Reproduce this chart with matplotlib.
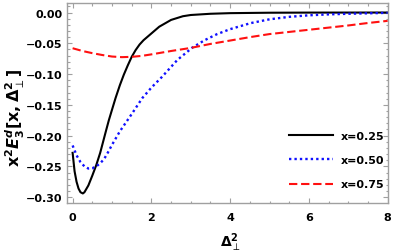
import matplotlib
matplotlib.use('Agg')
from matplotlib import pyplot as plt
from matplotlib.ticker import MultipleLocator

# values
d_025 = [0, 0.05, 0.1, 0.15, 0.2, 0.26, 0.3, 0.4, 0.5, 0.6, 0.7, 0.77, 0.84, 0.92, 1.0, 1.09,
         1.2, 1.3, 1.4, 1.5, 1.6, 1.7, 1.8, 2.0, 2.2, 2.5, 2.8, 3.0, 3.5, 4.0, 5.0, 6.0, 8.0]
e_025 = [-0.228, -0.258, -0.275, -0.286, -0.292, -0.294, -0.292, -0.281, -0.265, -0.248,
         -0.228, -0.211, -0.194, -0.175, -0.158, -0.139, -0.118, -0.101, -0.086, -0.072,
         -0.061, -0.052, -0.045, -0.034, -0.023, -0.012, -0.006, -0.004, -0.002, -0.001,
         -0.0003, -0.0001, 0.0]

d_050 = [0, 0.1, 0.2, 0.3, 0.4, 0.5, 0.6, 0.7, 0.8, 0.9, 1.0, 1.2, 1.5, 1.77, 2.0, 2.27,
         2.66, 3.04, 3.35, 3.67, 4.0, 4.52, 5.0, 5.5, 6.0, 6.5, 7.0, 8.0]
e_050 = [-0.216, -0.232, -0.243, -0.250, -0.2535, -0.253, -0.250, -0.245, -0.238, -0.227,
         -0.215, -0.193, -0.165, -0.139, -0.122, -0.1045, -0.077, -0.057, -0.045, -0.035,
         -0.027, -0.0172, -0.011, -0.007, -0.0045, -0.003, -0.002, -0.0005]

d_075 = [0, 0.25, 0.5, 0.75, 1.0, 1.25, 1.5, 1.75, 2.0, 2.5, 3.0, 3.5, 4.0, 4.5, 5.0,
         5.5, 6.0, 6.5, 7.0, 7.5, 8.0]
e_075 = [-0.058, -0.0625, -0.066, -0.069, -0.0715, -0.0725, -0.072, -0.0705, -0.068,
         -0.0625, -0.0575, -0.051, -0.0455, -0.040, -0.035, -0.0315, -0.028, -0.0245,
         -0.021, -0.017, -0.0135]

labels = ['x=0.25', 'x=0.50', 'x=0.75']

frame_col = '#a0a0a0'

fig = plt.figure(figsize=(3.98, 2.53), dpi=100)
ax = fig.add_axes([0.1676, 0.1937, 0.8085, 0.7905])

ax.plot(d_025, e_025, color='black', lw=1.5, label=labels[0])
ax.plot(d_050, e_050, color='#1010ff', lw=1.7, dashes=(1, 1.3), label=labels[1])
ax.plot(d_075, e_075, color='#ff1010', lw=1.5, dashes=(4, 1.8), label=labels[2])

ax.set_xlim(-0.15, 8.02)
ax.set_ylim(-0.3095, 0.0155)

ax.xaxis.set_major_locator(MultipleLocator(2))
ax.xaxis.set_minor_locator(MultipleLocator(0.5))
ax.yaxis.set_major_locator(MultipleLocator(0.05))
ax.yaxis.set_minor_locator(MultipleLocator(0.01))
ax.yaxis.set_major_formatter(plt.FuncFormatter(lambda v, p: ('%.2f' % v).replace('-', '\u2212') if abs(v) > 1e-9 else '0.00'))

for s in ax.spines.values():
    s.set_color(frame_col)
    s.set_linewidth(1.0)
ax.tick_params(which='both', direction='in', top=True, right=True, color=frame_col, width=0.8)
ax.tick_params(which='major', length=3.5)
ax.tick_params(which='minor', length=1.8)
ax.tick_params(axis='y', which='major', pad=3)
ax.tick_params(axis='x', which='major', pad=6.5)
for t in ax.get_xticklabels() + ax.get_yticklabels():
    t.set_fontsize(8)
    t.set_fontweight('bold')

ax.set_xlabel(r'$\mathbf{\Delta}_{\perp}^{\mathbf{2}}$', fontsize=10)
ax.xaxis.set_label_coords(0.51, -0.135)
ax.set_ylabel(r'$\mathbf{x^2}\mathbfit{E}_\mathbf{3}^\mathbfit{d}\mathbf{[x,\Delta}_{\perp}^{\mathbf{2}}\mathbf{]}$', fontsize=11.5)
ax.yaxis.set_label_coords(-0.123, 0.43)

leg = ax.legend(loc='upper left', bbox_to_anchor=(0.69, 0.362), frameon=False,
                prop={'weight': 'bold', 'size': 8}, handlelength=4.0,
                handletextpad=0.7, labelspacing=1.3, borderpad=0, borderaxespad=0)

fig.savefig('out.png', dpi=100)
